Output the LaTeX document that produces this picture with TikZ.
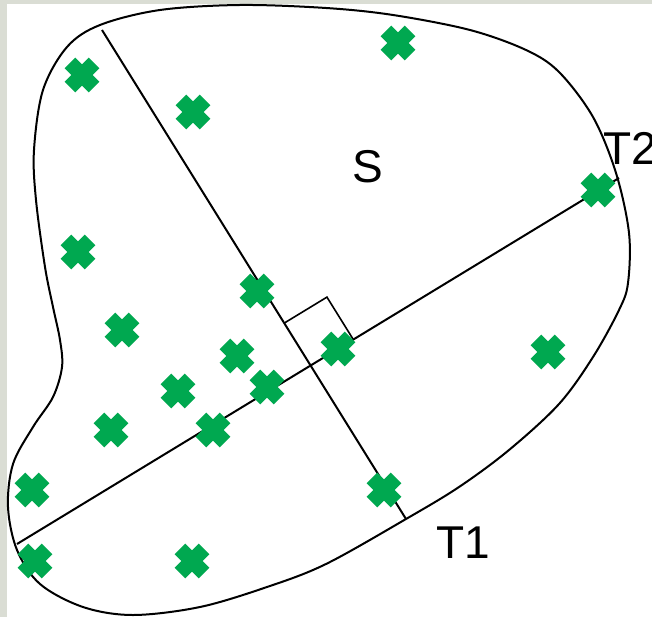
\documentclass[tikz,border=0pt]{standalone}
\usepackage{fontspec}
\setmainfont{Liberation Sans}
\usetikzlibrary{calc}
\definecolor{xgreen}{RGB}{0,168,80}
\definecolor{bgray}{RGB}{218,221,212}
\tikzset{
  gx/.pic={
    \fill[xgreen,rotate=45] (-17,-7.5) rectangle (17,7.5);
    \fill[xgreen,rotate=-45] (-17,-7.5) rectangle (17,7.5);
  },
  outline/.style={draw=black,line width=2pt},
  axisline/.style={draw=black,line width=2pt},
  lbl/.style={font=\fontsize{46}{46}\selectfont,inner sep=0pt,text=black},
}
\begin{document}
\begin{tikzpicture}[x=1pt,y=-1pt]
\useasboundingbox (0,0) rectangle (652,617);
\fill[bgray] (0,0) rectangle (652,617);
\fill[white] (7,4) rectangle (652,617);
% blob
\draw[outline] plot[smooth cycle,tension=0.55] coordinates {
 (100,25) (160,10) (240,5) (326,8) (393,15) (470,30) (526,50) (559,72)
 (593,117) (616,173) (629,233) (628,283) (619,310) (593,357) (559,404)
 (509,450) (459,487) (406,519) (326,564) (267,587) (200,607) (133,615)
 (83,607) (40,584) (17,550) (8,507) (13,464) (33,427) (53,397) (62,367)
 (60,340) (53,307) (45,267) (36,200) (34,150) (43,90) (67,47)};
% axes
\coordinate (t1a) at (102,30);
\coordinate (t1b) at (406,519);
\coordinate (t2a) at (17,544);
\coordinate (t2b) at (619,178);
\draw[axisline] (t1a) -- (t1b);
\draw[axisline] (t2a) -- (t2b);
\coordinate (I) at (intersection of t1a--t1b and t2a--t2b);
\coordinate (p1) at ($(I)!50pt!(t1a)$);
\coordinate (p2) at ($(I)!50pt!(t2b)$);
\coordinate (pc) at ($(p1)+(p2)-(I)$);
\draw[axisline,line width=1.6pt] (p1) -- (pc) -- (p2);
% crosses
\foreach \n/\x/\y in {a/82/75,b/193/112,c/398/43,d/598/190,e/78/252,f/257/291,
  g/122/330,h/237/356,i/338/349,j/548/352,k/178/391,l/267/387,m/111/430,
  n/213/430,o/32/490,p/384/490,q/35/561,r/192/561}
  \pic (x\n) at (\x,\y) {gx};
% labels
\node[lbl] (S) at (368,167) {S};
\node[lbl] (T1) at (463,543) {T1};
\node[lbl,anchor=west] (T2) at (603,148) {T2};
\end{tikzpicture}
\end{document}
